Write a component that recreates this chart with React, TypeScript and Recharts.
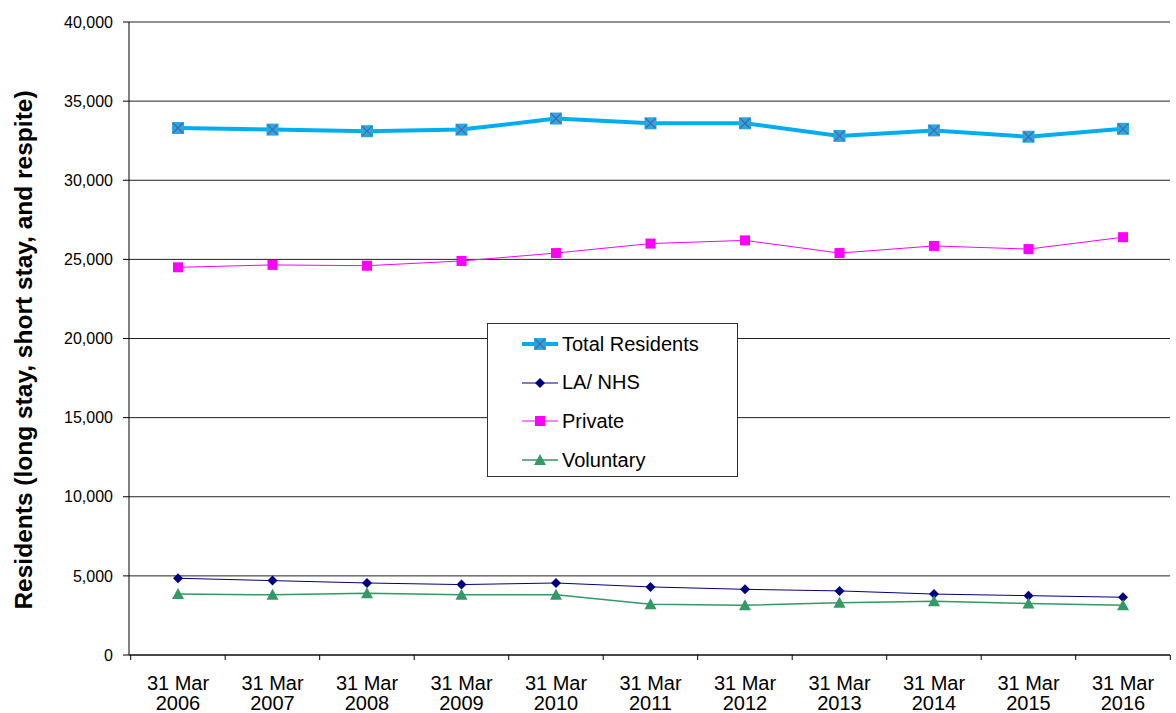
import React from 'react';
import { LineChart, Line, XAxis, YAxis, CartesianGrid } from 'recharts';

const years = ['2006', '2007', '2008', '2009', '2010', '2011', '2012', '2013', '2014', '2015', '2016'];
const datePrefix = '31 Mar';
const totalResidents = [33300, 33200, 33100, 33200, 33900, 33600, 33600, 32800, 33150, 32750, 33250];
const laNhs = [4850, 4700, 4550, 4450, 4550, 4300, 4150, 4050, 3850, 3750, 3650];
const privateHomes = [24500, 24650, 24600, 24900, 25400, 26000, 26200, 25400, 25850, 25650, 26400];
const voluntary = [3850, 3800, 3900, 3800, 3800, 3200, 3150, 3300, 3400, 3250, 3150];
const yTicks = [0, 5000, 10000, 15000, 20000, 25000, 30000, 35000, 40000];
const yLabel = 'Residents (long stay, short stay, and respite)';

const data = years.map((y, i) => ({
  year: y,
  total: totalResidents[i],
  la: laNhs[i],
  priv: privateHomes[i],
  vol: voluntary[i],
}));

const FONT = '"Liberation Sans", Arial, sans-serif';
const TOTAL_C = '#00AEEF';
const LA_C = '#000080';
const PRIV_C = '#FF00FF';
const VOL_C = '#339966';
const HALF = 47.3;

const TotalDot = (p: any) => {
  const { cx, cy } = p;
  if (cx == null || cy == null) return null;
  const s = 6;
  return (
    <g key={`t-${cx}`}>
      <rect x={cx - s} y={cy - s} width={2 * s} height={2 * s} fill="#29A8E0" />
      <line x1={cx - s + 1} y1={cy - s + 1} x2={cx + s - 1} y2={cy + s - 1} stroke="#4F63A8" strokeWidth={1.2} />
      <line x1={cx - s + 1} y1={cy + s - 1} x2={cx + s - 1} y2={cy - s + 1} stroke="#4F63A8" strokeWidth={1.2} />
    </g>
  );
};

const DiamondDot = (p: any) => {
  const { cx, cy } = p;
  if (cx == null || cy == null) return null;
  const s = 5;
  return <path key={`d-${cx}`} d={`M${cx},${cy - s}L${cx + s},${cy}L${cx},${cy + s}L${cx - s},${cy}Z`} fill={LA_C} />;
};

const SquareDot = (p: any) => {
  const { cx, cy } = p;
  if (cx == null || cy == null) return null;
  const s = 5;
  return <rect key={`s-${cx}`} x={cx - s} y={cy - s} width={2 * s} height={2 * s} fill={PRIV_C} />;
};

const TriDot = (p: any) => {
  const { cx, cy } = p;
  if (cx == null || cy == null) return null;
  const s = 6;
  return <path key={`v-${cx}`} d={`M${cx},${cy - s}L${cx + s},${cy + s - 1}L${cx - s},${cy + s - 1}Z`} fill={VOL_C} />;
};

const XTick = (props: any) => {
  const { x, y, payload, index, visibleTicksCount } = props;
  const last = index === (visibleTicksCount ?? years.length) - 1;
  return (
    <g>
      <line x1={x - HALF} y1={y} x2={x - HALF} y2={y + 5} stroke="#000" />
      {last && <line x1={x + HALF} y1={y} x2={x + HALF} y2={y + 5} stroke="#000" />}
      <text x={x} y={y + 34.5} textAnchor="middle" fontFamily={FONT} fontSize={20} fill="#000">{datePrefix}</text>
      <text x={x} y={y + 55} textAnchor="middle" fontFamily={FONT} fontSize={20} fill="#000">{payload.value}</text>
    </g>
  );
};

const YLabel = () => (
  <text
    x={23}
    y={350}
    transform="rotate(-90 23 350)"
    textAnchor="middle"
    dominantBaseline="central"
    fontFamily={FONT}
    fontSize={24.5}
    fontWeight="bold"
    fill="#000"
  >
    {yLabel}
  </text>
);

const legendItems = [
  { name: 'Total Residents', color: TOTAL_C, width: 4, kind: 'total' },
  { name: 'LA/ NHS', color: LA_C, width: 1, kind: 'diamond' },
  { name: 'Private', color: PRIV_C, width: 1, kind: 'square' },
  { name: 'Voluntary', color: VOL_C, width: 1.5, kind: 'tri' },
];

const LegendIcon = ({ item }: any) => {
  const cx = 18;
  const cy = 8;
  let marker: any = null;
  if (item.kind === 'total') marker = <TotalDot cx={cx} cy={cy} />;
  if (item.kind === 'diamond') marker = <DiamondDot cx={cx} cy={cy} />;
  if (item.kind === 'square') marker = <SquareDot cx={cx} cy={cy} />;
  if (item.kind === 'tri') marker = <TriDot cx={cx} cy={cy} />;
  return (
    <svg width={36} height={16} style={{ display: 'block' }}>
      <line x1={0} y1={cy} x2={36} y2={cy} stroke={item.color} strokeWidth={item.width} />
      {marker}
    </svg>
  );
};

export default function App() {
  return (
    <div style={{ position: 'absolute', left: 0, top: 0, width: 1176, height: 713, background: '#fff' }}>
      <LineChart
        width={1176}
        height={713}
        data={data}
        margin={{ top: 22, right: 6, bottom: 0, left: 0 }}
      >
        <CartesianGrid horizontal vertical={false} stroke="#222" strokeWidth={1} />
        <XAxis
          dataKey="year"
          height={58}
          padding={{ left: 49, right: 47 }}
          axisLine={{ stroke: '#000' }}
          tickLine={false}
          tickSize={0}
          tickMargin={0}
          tick={<XTick />}
          interval={0}
        />
        <YAxis
          width={129}
          domain={[0, 40000]}
          ticks={yTicks}
          interval={0}
          axisLine={{ stroke: '#000' }}
          tickLine={{ stroke: '#000' }}
          tickSize={6}
          tickMargin={10}
          tick={{ fontFamily: FONT, fontSize: 16, fill: '#000' }}
          tickFormatter={(v: number) => v.toLocaleString('en-US')}
          label={{ content: <YLabel /> } as any}
        />
        <Line type="linear" dataKey="total" stroke={TOTAL_C} strokeWidth={4} dot={TotalDot} isAnimationActive={false} />
        <Line type="linear" dataKey="la" stroke={LA_C} strokeWidth={1} dot={DiamondDot} isAnimationActive={false} />
        <Line type="linear" dataKey="priv" stroke={PRIV_C} strokeWidth={1} dot={SquareDot} isAnimationActive={false} />
        <Line type="linear" dataKey="vol" stroke={VOL_C} strokeWidth={1.5} dot={TriDot} isAnimationActive={false} />
      </LineChart>
      <div
        style={{
          position: 'absolute',
          left: 487,
          top: 323,
          width: 249,
          height: 152,
          border: '1px solid #333',
          background: '#fff',
          fontFamily: FONT,
          fontSize: 20,
          color: '#000',
        }}
      >
        {legendItems.map((it, i) => (
          <div
            key={it.name}
            style={{ position: 'absolute', left: 34, top: 8 + i * 38.7, display: 'flex', alignItems: 'center', height: 24 }}
          >
            <LegendIcon item={it} />
            <span style={{ marginLeft: 4, whiteSpace: 'nowrap' }}>{it.name}</span>
          </div>
        ))}
      </div>
    </div>
  );
}
